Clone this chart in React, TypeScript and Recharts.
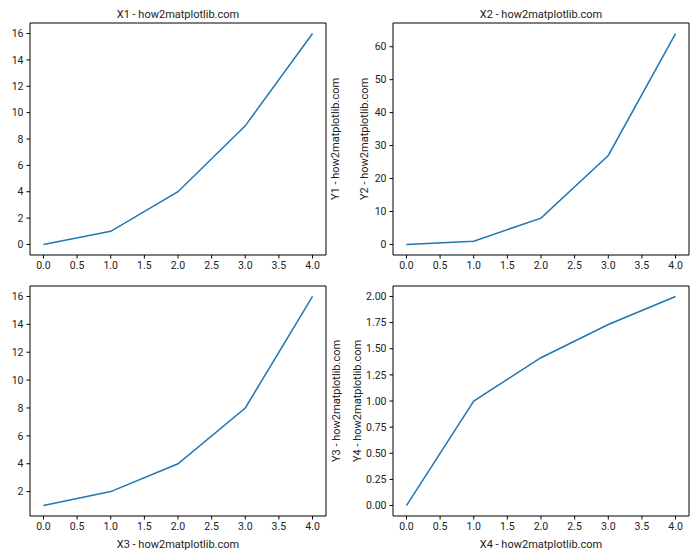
import React from "react";
import { LineChart, Line, XAxis, YAxis } from "recharts";

const xs = [0, 1, 2, 3, 4];
const y1 = [0, 1, 4, 9, 16];
const y2 = [0, 1, 8, 27, 64];
const y3 = [1, 2, 4, 8, 16];
const y4 = [0, 1, 1.414, 1.732, 2];

const xTicks = [0, 0.5, 1, 1.5, 2, 2.5, 3, 3.5, 4];
const y1Ticks = [0, 2, 4, 6, 8, 10, 12, 14, 16];
const y2Ticks = [0, 10, 20, 30, 40, 50, 60];
const y3Ticks = [2, 4, 6, 8, 10, 12, 14, 16];
const y4Ticks = [0, 0.25, 0.5, 0.75, 1, 1.25, 1.5, 1.75, 2];

const FONT = "Roboto, 'DejaVu Sans', sans-serif";
const INK = "#000";
const tickStyle = { fill: "#222", fontSize: 10.5, fontFamily: FONT };
const xDomain = [-0.2, 4.2];

function vLabel(text: string, dx: number) {
  return (p: any) => {
    const vb = p.viewBox || {};
    const cx = vb.x + dx;
    const cy = vb.y + vb.height / 2;
    return (
      <text x={cx} y={cy} transform={`rotate(-90, ${cx}, ${cy})`} textAnchor="middle"
        dominantBaseline="central" fill="#222" fontSize={11} fontFamily={FONT}>{text}</text>
    );
  };
}

function hLabel(text: string, dy: number) {
  return (p: any) => {
    const vb = p.viewBox || {};
    return (
      <text x={vb.x + vb.width / 2} y={vb.y + dy} textAnchor="middle" fill="#222"
        fontSize={11} fontFamily={FONT}>{text}</text>
    );
  };
}

type PanelProps = {
  left: number; top: number; width: number; height: number; marginTop: number;
  ys: number[]; yDomain: number[]; yTicks: number[]; yFmt: (v: number) => string;
  leftW: number; rightW: number; bottomH: number;
  xLabel: string; xTop: boolean; yLabel: string; yRight: boolean; yDx: number;
};

function Panel(p: PanelProps) {
  const data = xs.map((x, i) => ({ x, y: p.ys[i] }));
  return (
    <div style={{ position: "absolute", left: p.left, top: p.top }}>
      <LineChart width={p.width} height={p.height} data={data}
        margin={{ top: p.marginTop - 1, right: 0, left: 0, bottom: 0 }}>
        <XAxis xAxisId="b" dataKey="x" type="number" domain={xDomain} ticks={xTicks}
          tickFormatter={(v) => v.toFixed(1)} height={p.bottomH} stroke={INK}
          tickSize={3.5} tickMargin={3} tick={tickStyle} allowDataOverflow
          label={p.xTop ? undefined : hLabel(p.xLabel, 32)} />
        <XAxis xAxisId="t" orientation="top" dataKey="x" type="number" domain={xDomain}
          height={1} stroke={INK} tick={false} tickLine={false}
          label={p.xTop ? hLabel(p.xLabel, -4) : undefined} />
        <YAxis yAxisId="l" type="number" domain={p.yDomain} ticks={p.yTicks}
          tickFormatter={p.yFmt} width={p.leftW} stroke={INK} tickSize={3.5}
          tickMargin={3} tick={tickStyle} allowDataOverflow
          label={p.yRight ? undefined : vLabel(p.yLabel, p.yDx)} />
        <YAxis yAxisId="r" orientation="right" type="number" domain={p.yDomain}
          width={p.rightW} stroke={INK} tick={false} tickLine={false}
          label={p.yRight ? vLabel(p.yLabel, p.yDx) : undefined} />
        <Line xAxisId="b" yAxisId="l" type="linear" dataKey="y" stroke="#1f77b4"
          strokeWidth={1.5} dot={false} isAnimationActive={false} />
      </LineChart>
    </div>
  );
}

export default function App() {
  return (
    <div style={{ position: "fixed", left: 0, top: 0, width: 700, height: 560, background: "#fff" }}>
      <Panel left={0} top={0} width={350} height={280} marginTop={23}
        ys={y1} yDomain={[-0.8, 16.8]} yTicks={y1Ticks} yFmt={(v) => String(v)}
        leftW={30} rightW={24} bottomH={25}
        xLabel="X1 - how2matplotlib.com" xTop yLabel="Y1 - how2matplotlib.com" yRight yDx={9} />
      <Panel left={350} top={0} width={350} height={280} marginTop={23}
        ys={y2} yDomain={[-3.2, 67.2]} yTicks={y2Ticks} yFmt={(v) => String(v)}
        leftW={43} rightW={11} bottomH={25}
        xLabel="X2 - how2matplotlib.com" xTop yLabel="Y2 - how2matplotlib.com" yRight={false} yDx={14} />
      <Panel left={0} top={270} width={350} height={290} marginTop={16}
        ys={y3} yDomain={[0.25, 16.75]} yTicks={y3Ticks} yFmt={(v) => String(v)}
        leftW={30} rightW={24} bottomH={44}
        xLabel="X3 - how2matplotlib.com" xTop={false} yLabel="Y3 - how2matplotlib.com" yRight yDx={10} />
      <Panel left={350} top={270} width={350} height={290} marginTop={16}
        ys={y4} yDomain={[-0.1, 2.1]} yTicks={y4Ticks} yFmt={(v) => v.toFixed(2)}
        leftW={43} rightW={11} bottomH={44}
        xLabel="X4 - how2matplotlib.com" xTop={false} yLabel="Y4 - how2matplotlib.com" yRight={false} yDx={7} />
    </div>
  );
}
